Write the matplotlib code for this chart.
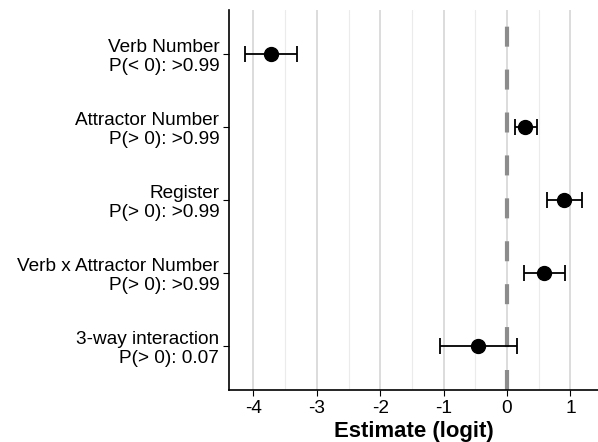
import numpy as np
import matplotlib
matplotlib.use('Agg')
from matplotlib import pyplot as plt

plt.rcParams['font.family'] = ['Liberation Sans', 'DejaVu Sans']

# model terms, top to bottom
terms = ['Verb Number', 'Attractor Number', 'Register',
         'Verb x Attractor Number', '3-way interaction']
probs = ['P(< 0): >0.99', 'P(> 0): >0.99', 'P(> 0): >0.99',
         'P(> 0): >0.99', 'P(> 0): 0.07']
estimate = [-3.72, 0.29, 0.90, 0.58, -0.45]
lower = [-4.13, 0.12, 0.63, 0.27, -1.05]
upper = [-3.31, 0.48, 1.18, 0.91, 0.16]

labels = [t + '\n' + p for t, p in zip(terms, probs)]
ypos = np.arange(len(terms))[::-1] + 1

fig = plt.figure(figsize=(5.98, 4.42), dpi=100)
ax = fig.add_axes([229 / 598, 1 - 390 / 442, 1 - 229 / 598, 380 / 442])

# grid: major at integers, minor at halves
for x in np.arange(-4, 2):
    ax.axvline(x, color='#d2d2d2', lw=1.1, zorder=0)
for x in np.arange(-4.5, 1.5, 1):
    ax.axvline(x, color='#ebebeb', lw=0.8, zorder=0)

ax.axvline(0, color='#8c8c8c', lw=3, dashes=(4.8, 5.5), zorder=1)

est = np.array(estimate)
err = [est - np.array(lower), np.array(upper) - est]
ax.errorbar(est, ypos, xerr=err, fmt='o', color='black', ms=10,
            ecolor='black', elinewidth=1.3, capsize=6, capthick=1.3, zorder=3)

ax.set_xlim(-4.385, 1.435)
ax.set_ylim(0.4, 5.6)
ax.set_xticks(np.arange(-4, 2))
ax.set_xticklabels([str(v) for v in np.arange(-4, 2)])
ax.set_yticks(ypos)
ax.set_yticklabels(labels, fontsize=13.7, linespacing=1.15)
ax.tick_params(axis='x', labelsize=13.7, length=4, width=0.8, colors='black', pad=3)
ax.tick_params(axis='y', length=4, width=0.8, colors='black', pad=3)

for s in ['top', 'right']:
    ax.spines[s].set_visible(False)
for s in ['left', 'bottom']:
    ax.spines[s].set_linewidth(1.2)

ax.set_xlabel('Estimate (logit)', fontsize=15.9, fontweight='bold', labelpad=3)

fig.savefig('out.png', dpi=100)
